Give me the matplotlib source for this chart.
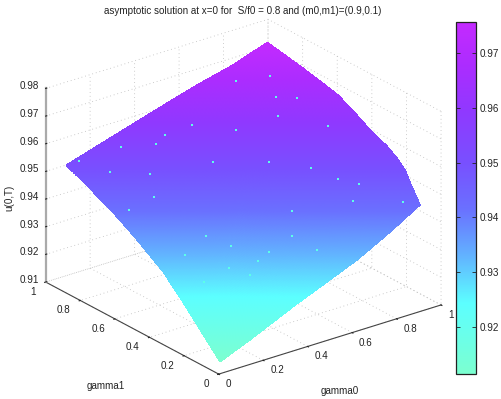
import numpy as np
import matplotlib
matplotlib.use('Agg')
import matplotlib.pyplot as plt
import matplotlib.tri as mtri
from matplotlib.colors import LinearSegmentedColormap, Normalize
from matplotlib.cm import ScalarMappable
from mpl_toolkits.mplot3d import proj3d

# rim of the surface, walking round it, last entry is the middle
gamma0 = [0.0475, 0.1849, 0.3854, 0.5228, 0.6787, 0.8389, 0.9881, 1.0099, 1.0284, 1.0341, 1.0336, 1.0246, 1.0213, 1.0156, 0.9976, 0.9801,
          0.9393, 0.7853, 0.6437, 0.5025, 0.3613, 0.2148, 0.0765, 0.0888, 0.0987, 0.1006, 0.0997, 0.0988, 0.0855, 0.0698, 0.4968]
gamma1 = [0.0535, 0.0564, 0.0651, 0.0680, 0.0715, 0.0863, 0.1044, 0.1844, 0.2428, 0.2963, 0.3593, 0.4287, 0.5227, 0.6136, 0.6946, 0.7704,
          0.9262, 0.9309, 0.9456, 0.9552, 0.9647, 0.9733, 0.9808, 0.8463, 0.7088, 0.6014, 0.5250, 0.4487, 0.3333, 0.2150, 0.4970]
u_vals = [0.9114, 0.9158, 0.9225, 0.9269, 0.9319, 0.9375, 0.9430, 0.9470, 0.9500, 0.9524, 0.9550, 0.9576, 0.9615, 0.9651, 0.9679, 0.9705,
          0.9757, 0.9711, 0.9673, 0.9633, 0.9592, 0.9550, 0.9510, 0.9458, 0.9403, 0.9359, 0.9327, 0.9295, 0.9243, 0.9188, 0.9440]

# little light specks scattered on the surface
speck_g0 = [0.5295, 0.6427, 0.9137, 0.4289, 0.3820, 0.2755, 0.1228, 0.5015, 0.6607, 0.7659, 0.1850, 0.2940,
            0.8166, 0.8645, 0.2509, 0.8071, 0.9469, 0.6100, 0.1490, 0.3063, 0.5508, 0.3537, 0.5887, 0.4475,
            0.2015, 0.3948, 0.2959, 0.3390, 0.1916, 0.7588, 0.8673, 0.8346, 0.8919, 0.7953]
speck_g1 = [0.8337, 0.7247, 0.5408, 0.8609, 0.8526, 0.9183, 0.9651, 0.6765, 0.5571, 0.4493, 0.8657, 0.7743,
            0.3583, 0.2983, 0.6958, 0.2595, 0.1498, 0.3590, 0.7096, 0.4664, 0.2830, 0.3827, 0.1872, 0.2835,
            0.4534, 0.2795, 0.3200, 0.2541, 0.3308, 0.8737, 0.8164, 0.7398, 0.6920, 0.6778]
speck_u = [0.9590, 0.9580, 0.9588, 0.9570, 0.9552, 0.9546, 0.9518, 0.9516, 0.9516, 0.9504, 0.9496, 0.9492,
           0.9482, 0.9472, 0.9446, 0.9438, 0.9436, 0.9418, 0.9420, 0.9367, 0.9367, 0.9347, 0.9339, 0.9335,
           0.9329, 0.9317, 0.9303, 0.9289, 0.9275, 0.9679, 0.9689, 0.9647, 0.9645, 0.9609]

gamma_ticks = [0, 0.2, 0.4, 0.6, 0.8, 1]
gamma_labels = ['0', '0.2', '0.4', '0.6', '0.8', '1']
u_ticks = [0.91, 0.92, 0.93, 0.94, 0.95, 0.96, 0.97, 0.98]
u_labels = ['0.91', '0.92', '0.93', '0.94', '0.95', '0.96', '0.97', '0.98']
cbar_ticks = [0.92, 0.93, 0.94, 0.95, 0.96, 0.97]
cbar_labels = ['0.92', '0.93', '0.94', '0.95', '0.96', '0.97']
u_min = 0.9114
u_max = 0.9757

colors = ['#7cffd0', '#5cffff', '#62b0ff', '#6a70ff', '#7850ff', '#9038ff', '#ac2cff', '#c42aff']
stops = [0.0, 0.2, 0.34, 0.47, 0.6, 0.75, 0.88, 1.0]
cmap = LinearSegmentedColormap.from_list('octave', list(zip(stops, colors)), N=512)

plt.rcParams['font.family'] = ['Liberation Sans', 'DejaVu Sans']
plt.rcParams['font.size'] = 7.15
text_color = '#222222'

fig = plt.figure(figsize=(5.01, 3.99), dpi=100)
ax = fig.add_axes([0.0, -2.6 / 399, 0.95, 1.0], projection='3d', proj_type='ortho')
ax.view_init(elev=24, azim=-127.4)
ax.set_box_aspect((280, 285, 212), zoom=1.1)
ax.computed_zorder = False

norm = Normalize(u_min, u_max)

# fan of triangles round the middle point, then made finer so the colour runs smoothly
n_rim = len(gamma0) - 1
triangles = [[n_rim, i, (i + 1) % n_rim] for i in range(n_rim)]
tri = mtri.Triangulation(gamma0, gamma1, triangles)
refiner = mtri.UniformTriRefiner(tri)
fine_tri, fine_u = refiner.refine_field(np.array(u_vals), triinterpolator=mtri.LinearTriInterpolator(tri, np.array(u_vals)), subdiv=6)
ax.plot_trisurf(fine_tri, fine_u, cmap=cmap, norm=norm, linewidth=0, antialiased=False, shade=False, zorder=2)
ax.scatter(speck_g0, speck_g1, speck_u, s=1.2, marker='s', c='#5cffe8', linewidths=0, depthshade=False, zorder=3)

ax.set_xlim(0, 1)
ax.set_ylim(0, 1)
ax.set_zlim(0.91, 0.98)
ax.set_xticks(gamma_ticks)
ax.set_yticks(gamma_ticks)
ax.set_zticks(u_ticks)
ax.set_xticklabels([])
ax.set_yticklabels([])
ax.set_zticklabels([])

for axis in (ax.xaxis, ax.yaxis, ax.zaxis):
    axis.pane.fill = False
    axis.pane.set_edgecolor('none')
    axis._axinfo['grid'].update(color='#bcbcbc', linewidth=0.6, linestyle=(0, (1, 3.5)))
    axis.line.set_color('#444444')
    axis.line.set_linewidth(0.8)
ax.xaxis._axinfo['tick'].update(inward_factor=0.06, outward_factor=0.0)
ax.yaxis._axinfo['tick'].update(inward_factor=0.06, outward_factor=0.0)
ax.zaxis._axinfo['tick'].update(inward_factor=0.0, outward_factor=0.06)
ax.zaxis.line.set_color('#aaaaaa')
ax.zaxis.line.set_linewidth(1.6)
ax.tick_params(axis='both', colors=text_color, width=0.6)


# tick labels sit beside the axes the way the original has them, offsets in pixels
def tick_label(x, y, z, label, dx, dy, ha):
    xp, yp, _ = proj3d.proj_transform(x, y, z, ax.get_proj())
    ax.annotate(label, (xp, yp), xytext=(dx * 0.72, dy * 0.72), textcoords='offset points',
                ha=ha, va='center', color=text_color, annotation_clip=False)


for g, label in zip(gamma_ticks, gamma_labels):
    tick_label(g, 0, 0.91, label, 7, -10, 'left')
    tick_label(0, g, 0.91, label, -10, -10, 'right')
for u, label in zip(u_ticks, u_labels):
    tick_label(0, 1, u, label, -7, 2, 'right')

fig.text(243 / 501, 1 - 11 / 399, 'asymptotic solution at x=0 for  S/f0 = 0.8 and (m0,m1)=(0.9,0.1)', ha='center', va='center', color=text_color)
fig.text(340 / 501, 1 - 391 / 399, 'gamma0', ha='center', va='center', color=text_color)
fig.text(106 / 501, 1 - 386 / 399, 'gamma1', ha='center', va='center', color=text_color)
fig.text(9 / 501, 1 - 198 / 399, 'u(0,T)', ha='center', va='center', rotation=90, color=text_color)

cax = fig.add_axes([456 / 501, 1 - 374 / 399, 19.5 / 501, 352 / 399])
cb = fig.colorbar(ScalarMappable(norm=norm, cmap=cmap), cax=cax, ticks=cbar_ticks)
cb.ax.tick_params(direction='in', left=True, right=True, length=3, width=0.6, labelsize=7.15, pad=3, colors=text_color)
cb.ax.set_yticklabels(cbar_labels)
cb.outline.set_edgecolor(text_color)
cb.outline.set_linewidth(0.9)

fig.savefig('out.png', dpi=100)
